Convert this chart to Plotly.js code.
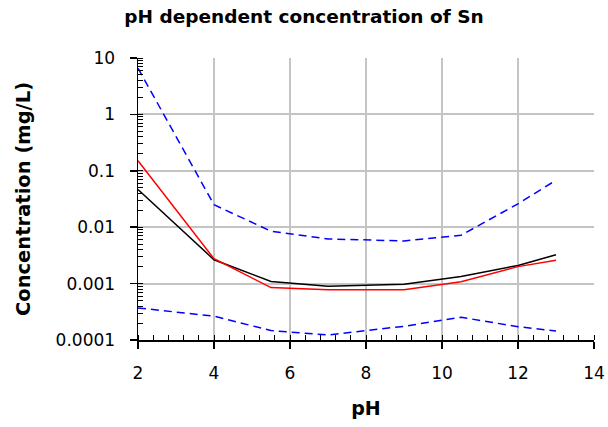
<!DOCTYPE html>
<html>
<head>
<meta charset="utf-8">
<script src="https://cdn.plot.ly/plotly-3.0.1.min.js"></script>
<style>html,body{margin:0;padding:0;background:#fff}#chart{width:608px;height:427px}</style>
</head>
<body>
<div id="chart"></div>
<script>
var pH = [2, 4, 5.5, 7, 9, 10.5, 12, 13];
var upperBound = [6.6, 0.025, 0.0085, 0.0062, 0.0057, 0.0072, 0.026, 0.068];
var lowerBound = [0.00037, 0.000264, 0.000147, 0.000123, 0.000175, 0.000253, 0.000172, 0.000145];
var blackSeries = [0.0467, 0.00265, 0.00109, 0.0009, 0.00097, 0.00134, 0.0021, 0.00325];
var redSeries = [0.151, 0.00276, 0.00085, 0.00078, 0.00078, 0.00108, 0.002, 0.0026];
var yTickVals = [0.0001, 0.001, 0.01, 0.1, 1, 10];
var yTickText = ['0.0001', '0.001', '0.01', '0.1', '1', '10'];
var xTickVals = [2, 4, 6, 8, 10, 12, 14];

var F = 'DejaVu Sans, Verdana, sans-serif';
var traces = [
  {x: pH, y: upperBound, mode: 'lines', line: {color: '#0000ff', width: 1.5, dash: '8px,5px'}},
  {x: pH, y: lowerBound, mode: 'lines', line: {color: '#0000ff', width: 1.5, dash: '8px,5px'}},
  {x: pH, y: blackSeries, mode: 'lines', line: {color: '#000000', width: 1.5}},
  {x: pH, y: redSeries, mode: 'lines', line: {color: '#ff0000', width: 1.5}}
];
var layout = {
  width: 608, height: 427,
  margin: {l: 138, r: 14, t: 58, b: 87},
  showlegend: false,
  paper_bgcolor: '#fff', plot_bgcolor: '#fff',
  font: {family: F, size: 16, color: '#000'},
  title: {text: '<b>pH dependent concentration of Sn</b>', font: {family: F, size: 18.5, color: '#000'}, x: 0.5, xanchor: 'center', y: 0.962, yanchor: 'middle'},
  xaxis: {
    range: [2, 14], tickmode: 'array', tickvals: xTickVals,
    showline: true, linecolor: '#000', linewidth: 1.5,
    ticks: 'outside', ticklen: 7, tickwidth: 1.5, tickcolor: '#000',
    showgrid: true, gridcolor: '#c4c4c4', gridwidth: 2, zeroline: false,
    minor: {tickmode: 'linear', tick0: 2, dtick: 0.4, ticks: 'inside', ticklen: 5, tickwidth: 1, tickcolor: '#000', showgrid: false},
    ticklabelstandoff: 10,
    title: {text: '<b>pH</b>', font: {family: F, size: 19}, standoff: 20},
    tickfont: {family: F, size: 17}
  },
  yaxis: {
    type: 'log', range: [-4, 1], tickmode: 'array', tickvals: yTickVals, ticktext: yTickText,
    showline: true, linecolor: '#000', linewidth: 1.5,
    ticks: 'outside', ticklen: 7, tickwidth: 1.5, tickcolor: '#000',
    showgrid: true, gridcolor: '#c4c4c4', gridwidth: 2, zeroline: false,
    minor: {dtick: 'D1', ticks: 'inside', ticklen: 5, tickwidth: 1, tickcolor: '#000', showgrid: false},
    ticklabelstandoff: 11,
    title: {text: '<b>Concentration (mg/L)</b>', font: {family: F, size: 19.5}, standoff: 20},
    tickfont: {family: F, size: 17}
  },
  xaxis2: {overlaying: 'x', range: [2, 14], tickmode: 'array', tickvals: xTickVals, ticks: 'inside', ticklen: 6, tickwidth: 1.5, tickcolor: '#000', showticklabels: false, showgrid: false, zeroline: false, showline: false},
  yaxis2: {overlaying: 'y', type: 'log', range: [-4, 1], tickmode: 'array', tickvals: yTickVals, ticks: 'inside', ticklen: 7, tickwidth: 1.5, tickcolor: '#000', showticklabels: false, showgrid: false, zeroline: false, showline: false}
};
Plotly.newPlot('chart', traces, layout, {staticPlot: true, displayModeBar: false});
</script>
</body>
</html>
